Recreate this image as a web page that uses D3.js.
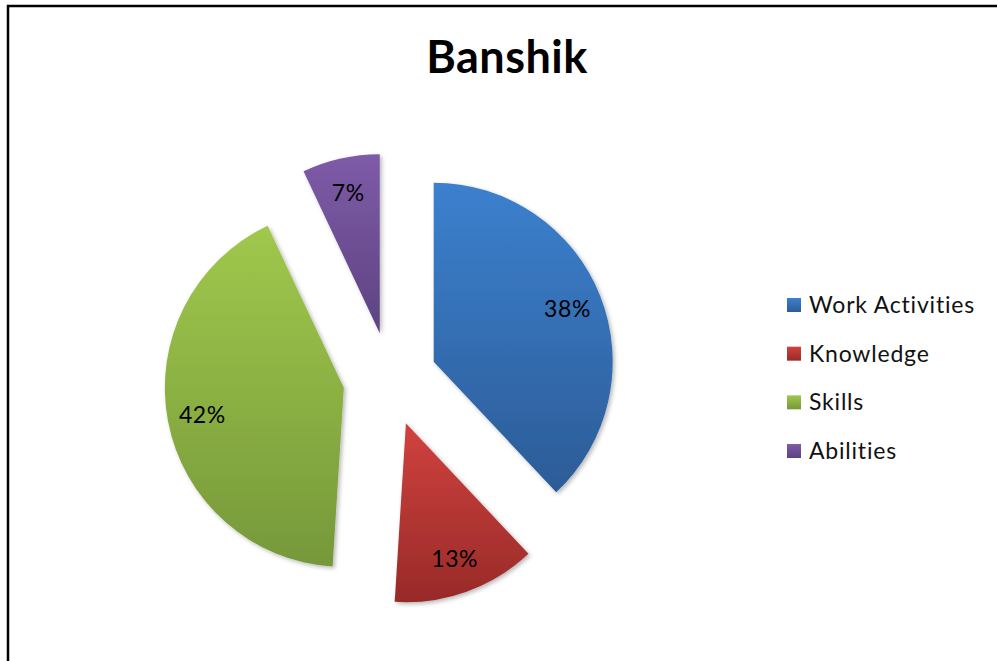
<!DOCTYPE html>
<html>
<head>
<meta charset="utf-8">
<script src="https://cdn.jsdelivr.net/npm/d3@7"></script>
<style>
  html, body { margin: 0; padding: 0; background: #fff; }
  svg { display: block; }
</style>
</head>
<body>
<svg id="chart" width="997" height="661"></svg>
<script>
// Chart data
const title = "Banshik";
const categories = ["Work Activities", "Knowledge", "Skills", "Abilities"];
const values = [38, 13, 42, 7];
const labels = ["38%", "13%", "42%", "7%"];

// Colour ramps per category (top, bottom)
const topColors = ["#3c80ce", "#d0423f", "#a0c84c", "#7e5ba8"];
const bottomColors = ["#2c5c97", "#982a28", "#76983a", "#5d4380"];

const W = 997, H = 661;
const FONT = "Lato, 'Open Sans', sans-serif";
const svg = d3.select("#chart");
const defs = svg.append("defs");

// Soft shadow behind the wedges
const shadow = defs.append("filter").attr("id", "wedgeShadow")
  .attr("x", "-10%").attr("y", "-10%").attr("width", "125%").attr("height", "125%");
shadow.append("feDropShadow")
  .attr("dx", 2).attr("dy", 2).attr("stdDeviation", 2.2)
  .attr("flood-color", "#000").attr("flood-opacity", 0.28);

categories.forEach((c, i) => {
  const g = defs.append("linearGradient").attr("id", "grad" + i)
    .attr("x1", 0).attr("y1", 0).attr("x2", 0).attr("y2", 1);
  g.append("stop").attr("offset", "0%").attr("stop-color", topColors[i]);
  g.append("stop").attr("offset", "100%").attr("stop-color", bottomColors[i]);
});

// Frame around the chart area
svg.append("rect")
  .attr("x", 8).attr("y", 6)
  .attr("width", W + 20).attr("height", H + 20)
  .attr("fill", "none").attr("stroke", "#000").attr("stroke-width", 2.5);

// Title
svg.append("text")
  .attr("x", 507).attr("y", 73)
  .attr("text-anchor", "middle")
  .attr("font-family", FONT)
  .attr("font-weight", "bold")
  .attr("font-size", 45)
  .attr("letter-spacing", 0.5)
  .attr("fill", "#000")
  .text(title);

// Exploded pie
const cx = 390, cy = 379, radius = 179, explode = 47, labelRadius = 144;
const pie = d3.pie().sort(null).value(d => d.value);
const arcs = pie(categories.map((c, i) => ({ name: c, value: values[i], label: labels[i], i })));
const arc = d3.arc().innerRadius(0).outerRadius(radius);

const pieG = svg.append("g").attr("transform", `translate(${cx},${cy})`);

const wedge = pieG.selectAll("g.wedge").data(arcs).join("g")
  .attr("class", "wedge")
  .attr("transform", d => {
    const a = (d.startAngle + d.endAngle) / 2;
    return `translate(${Math.sin(a) * explode},${-Math.cos(a) * explode})`;
  });

wedge.append("path")
  .attr("d", arc)
  .attr("fill", d => `url(#grad${d.data.i})`)
  .attr("filter", "url(#wedgeShadow)");

wedge.append("text")
  .attr("x", d => Math.sin((d.startAngle + d.endAngle) / 2) * labelRadius)
  .attr("y", d => -Math.cos((d.startAngle + d.endAngle) / 2) * labelRadius)
  .attr("dy", "0.35em")
  .attr("text-anchor", "middle")
  .attr("font-family", FONT)
  .attr("font-size", 23)
  .attr("letter-spacing", 0.6)
  .attr("fill", "#000")
  .text(d => d.data.label);

// Legend
const legendY = d3.scalePoint().domain(categories).range([305, 451]);
const legend = svg.append("g").selectAll("g").data(categories).join("g")
  .attr("transform", d => `translate(787,${legendY(d)})`);
legend.append("rect")
  .attr("x", 0).attr("y", -7).attr("width", 14).attr("height", 14)
  .attr("fill", (d, i) => `url(#grad${i})`);
legend.append("text")
  .attr("x", 22).attr("y", 0).attr("dy", "0.35em")
  .attr("font-family", FONT)
  .attr("font-size", 23)
  .attr("letter-spacing", 0.8)
  .attr("fill", "#111")
  .text(d => d);
</script>
</body>
</html>
